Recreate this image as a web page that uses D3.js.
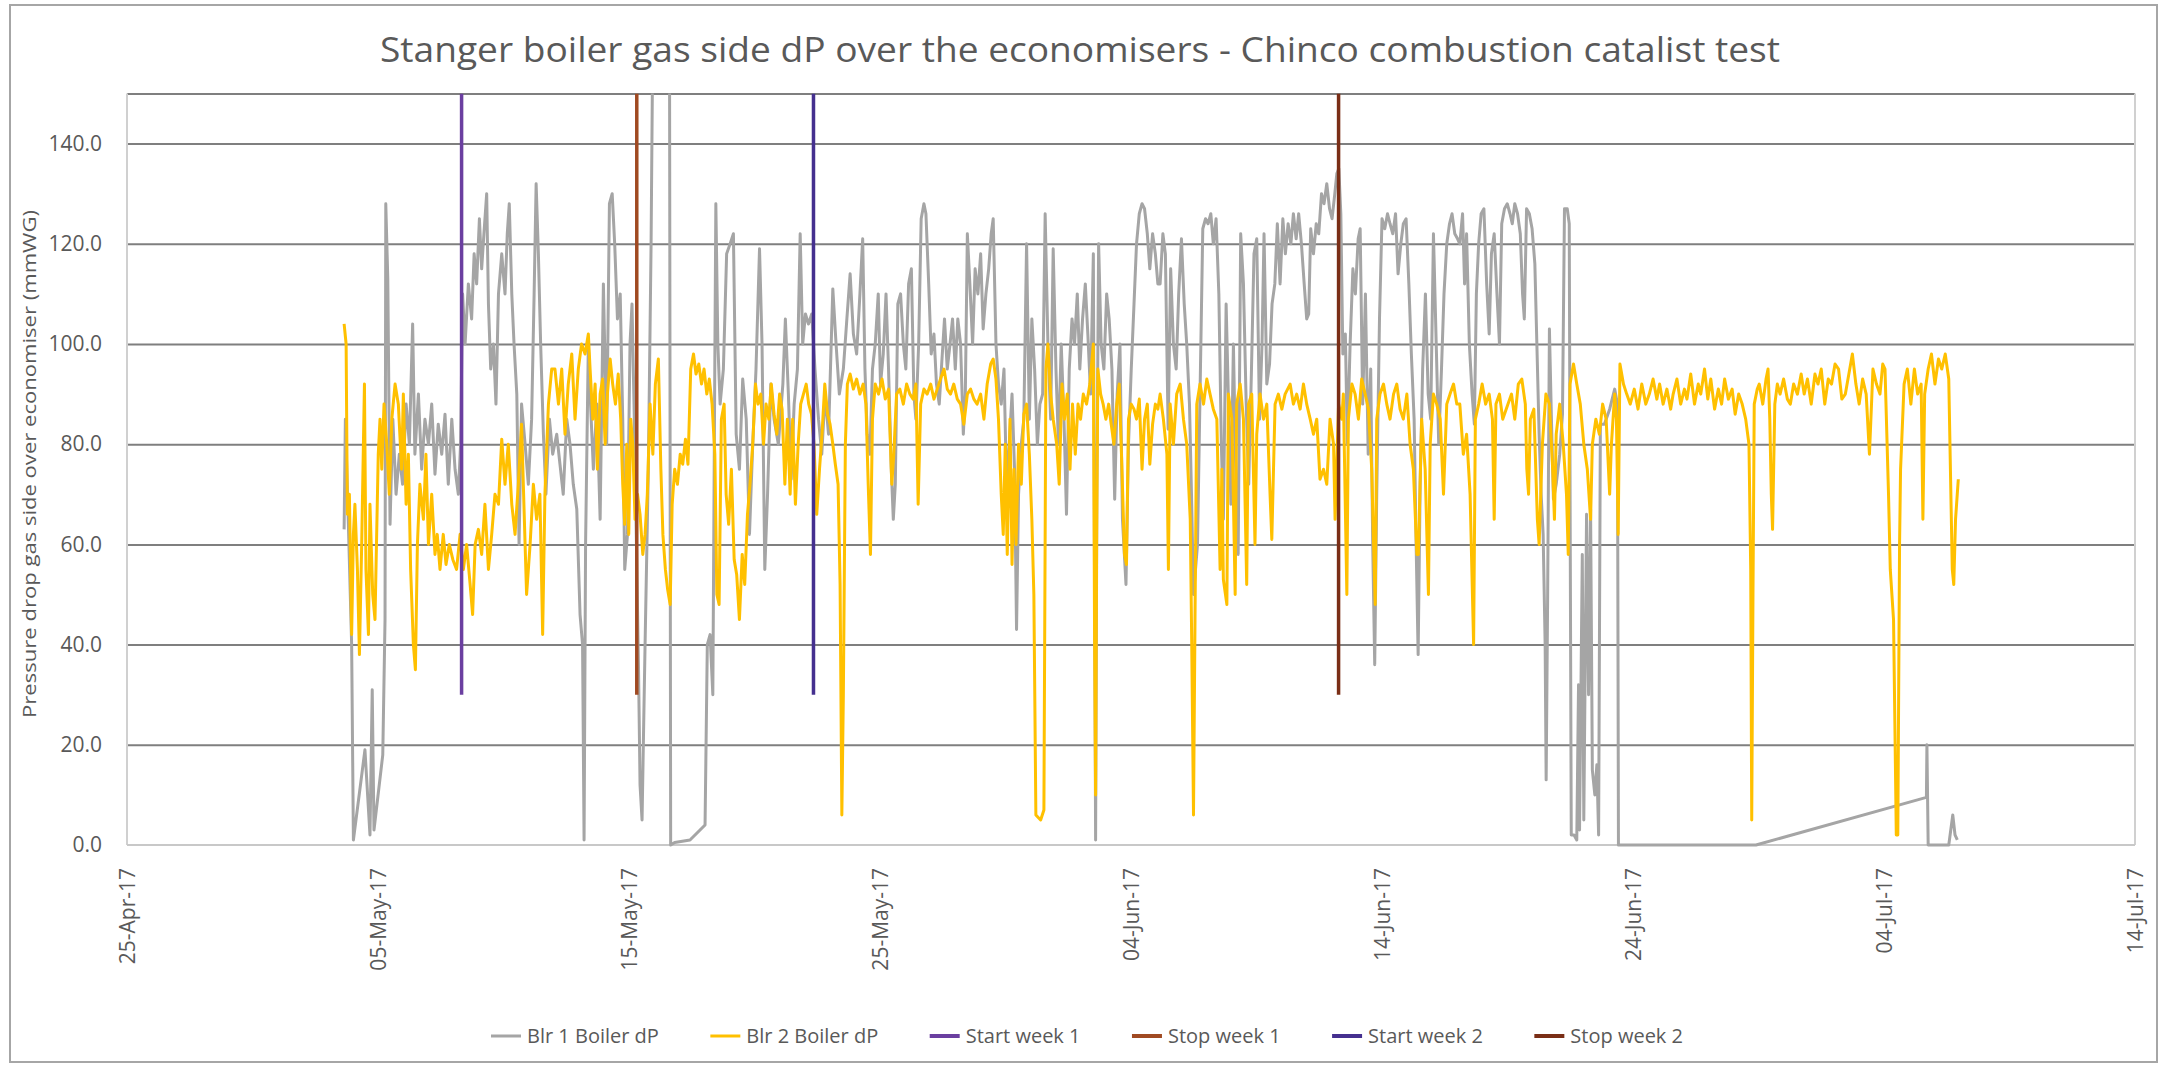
<!DOCTYPE html>
<html><head><meta charset="utf-8">
<script src="https://cdn.jsdelivr.net/npm/d3@7"></script>
<style>
body{margin:0;background:#fff;}
svg{display:block;}
text{font-family:"Open Sans","Liberation Sans",sans-serif;}
</style>
</head><body>
<svg id="chart" width="2164" height="1065"></svg>
<script>
// ---------- DATA ----------
const chartTitle = "Stanger boiler gas side dP over the economisers - Chinco combustion catalist test";
const yAxisTitle = "Pressure drop gas side over economiser (mmWG)";
const xTickLabels = ["25-Apr-17","05-May-17","15-May-17","25-May-17","04-Jun-17","14-Jun-17","24-Jun-17","04-Jul-17","14-Jul-17"];
const yTickValues = [0,20,40,60,80,100,120,140];
const yMax = 150;
const seriesNames = ["Blr 1 Boiler dP","Blr 2 Boiler dP"];
const markerNames = ["Start week 1","Stop week 1","Start week 2","Stop week 2"];
// marker lines: day offsets since 25-Apr-17, drawn from 30 to 150 mmWG
const markerDays = [13.33, 20.31, 27.35, 48.27];
const markerRange = [30, 150];

// [days since 25-Apr-17, mmWG]
const blr1 = [
[8.65,63],[8.70,85],[8.82,64],[8.95,40],[9.02,1],[9.48,19],[9.68,2],[9.77,31],[9.84,3],[10.19,18],[10.28,45],[10.31,128],[10.39,113],[10.48,64],[10.59,85],[10.72,70],[10.85,78],[10.98,72],[11.12,88],[11.25,80],[11.38,104],[11.47,78],[11.61,90],[11.74,75],[11.87,85],[12.01,80],[12.14,88],[12.27,74],[12.40,84],[12.54,78],[12.67,86],[12.80,72],[12.94,85],[13.07,75],[13.20,70],[13.29,80],[13.37,110],[13.47,100],[13.60,112],[13.73,105],[13.83,118],[13.93,112],[14.04,125],[14.13,115],[14.22,122],[14.33,130],[14.40,108],[14.49,95],[14.60,100],[14.70,88],[14.80,110],[14.93,118],[15.06,110],[15.15,122],[15.23,128],[15.33,110],[15.42,100],[15.53,90],[15.62,60],[15.72,88],[15.86,80],[15.99,72],[16.12,85],[16.22,110],[16.30,132],[16.39,118],[16.48,100],[16.59,82],[16.69,70],[16.83,85],[16.96,78],[17.12,82],[17.25,76],[17.38,70],[17.52,85],[17.65,80],[17.78,72],[17.92,67],[18.05,46],[18.15,40],[18.21,1],[18.27,60],[18.38,100],
[18.45,90],[18.58,75],[18.72,88],[18.85,65],[18.98,112],[19.11,80],[19.22,128],[19.33,130],[19.43,120],[19.54,105],[19.65,110],[19.75,85],[19.83,55],[19.94,62],[20.04,100],[20.12,108],[20.20,88],[20.28,65],[20.38,35],[20.44,12],[20.52,5],[20.64,40],[20.77,75],[20.88,120],[20.97,175],[21.61,175],[21.66,0],[21.82,0.5],[22.43,1],[22.83,3],[23.03,4],[23.12,40],[23.23,42],[23.34,30],[23.42,97],[23.46,128],[23.54,100],[23.63,88],[23.76,95],[23.89,118],[24.03,120],[24.16,122],[24.27,82],[24.40,75],[24.53,93],[24.67,85],[24.80,62],[24.93,80],[25.06,95],[25.20,119],[25.30,100],[25.41,55],[25.52,70],[25.65,92],[25.78,85],[25.95,80],[26.13,92],[26.23,105],[26.35,90],[26.46,73],[26.58,88],[26.71,95],[26.82,122],[26.92,100],[27.03,106],[27.15,104],[27.28,106],[27.41,95],[27.55,85],[27.68,78],[27.81,90],[27.95,82],[28.12,111],[28.25,100],[28.38,90],[28.54,95],[28.68,105],[28.81,114],[28.94,102],[29.07,98],
[29.20,110],[29.31,121],[29.40,95],[29.49,82],[29.60,78],[29.70,95],[29.81,100],[29.93,110],[30.02,92],[30.13,98],[30.24,110],[30.34,95],[30.45,75],[30.53,65],[30.61,72],[30.71,108],[30.82,110],[30.93,100],[31.03,95],[31.14,112],[31.25,115],[31.35,90],[31.43,85],[31.54,100],[31.64,125],[31.75,128],[31.83,126],[31.94,112],[32.04,98],[32.15,102],[32.25,92],[32.36,88],[32.47,97],[32.57,105],[32.68,95],[32.79,100],[32.89,105],[33.00,95],[33.10,105],[33.21,100],[33.32,82],[33.40,90],[33.48,122],[33.58,112],[33.69,100],[33.79,115],[33.90,110],[34.01,118],[34.11,103],[34.22,110],[34.33,115],[34.43,122],[34.51,125],[34.62,100],[34.72,92],[34.83,88],[34.94,95],[35.04,72],[35.15,80],[35.26,90],[35.36,75],[35.44,43],[35.52,70],[35.63,80],[35.73,85],[35.84,120],[35.95,85],[36.05,105],[36.16,95],[36.27,80],[36.37,88],[36.48,90],[36.58,126],[36.69,100],[36.80,85],[36.90,119],[37.01,95],[37.11,80],[37.22,100],[37.33,85],[37.43,66],[37.54,95],[37.65,105],[37.75,100],[37.86,110],[37.96,95],[38.07,105],[38.18,112],[38.28,102],[38.39,90],[38.50,118],[38.55,50],[38.59,1],[38.64,70],[38.71,120],[38.81,100],[38.92,95],[39.03,110],[39.13,105],[39.24,95],[39.35,69],[39.45,90],[39.56,100],[39.66,65],[39.80,52],[39.90,80],[40.01,95],[40.12,108],[40.22,120],[40.33,126],[40.44,128],[40.54,127],[40.65,122],[40.75,115],[40.86,122],[40.97,118],[41.07,112],
[41.16,112],[41.27,122],[41.37,118],[41.48,83],[41.58,115],[41.69,100],[41.80,95],[41.90,110],[42.01,121],[42.12,108],[42.22,100],[42.33,88],[42.41,70],[42.49,50],[42.57,55],[42.65,60],[42.75,90],[42.86,123],[42.97,125],[43.07,124],[43.18,126],[43.28,120],[43.39,125],[43.50,110],[43.60,80],[43.68,65],[43.79,108],[43.90,85],[43.98,68],[44.08,100],[44.19,70],[44.27,58],[44.37,122],[44.48,112],[44.59,88],[44.69,72],[44.80,95],[44.90,118],[45.01,121],[45.12,85],[45.22,100],[45.30,122],[45.41,92],[45.52,96],[45.62,108],[45.73,112],[45.83,124],[45.94,112],[46.05,125],[46.15,118],[46.26,124],[46.37,120],[46.47,126],[46.58,121],[46.68,126],[46.79,120],[46.90,112],[47.00,105],[47.08,106],[47.16,123],[47.27,118],[47.38,124],[47.48,122],[47.59,130],[47.69,128],[47.80,132],[47.91,127],[48.01,125],[48.12,130],[48.20,134],[48.28,135],[48.36,126],[48.44,98],[48.54,102],[48.62,80],[48.73,100],[48.84,115],[48.94,110],[49.05,121],[49.13,123],[49.23,88],[49.34,110],[49.45,78],[49.55,95],[49.63,60],[49.71,36],[49.79,70],[49.90,105],[50.00,125],[50.11,123],[50.22,126],[50.32,124],[50.43,122],[50.54,126],[50.64,114],[50.75,120],[50.85,124],[50.96,125],[51.07,112],[51.17,98],[51.28,85],[51.36,60],[51.44,38],[51.52,72],[51.62,95],[51.73,110],[51.84,90],[51.94,85],[52.05,122],[52.16,100],[52.26,80],[52.37,95],[52.47,110],[52.58,120],[52.69,124],[52.79,126],[52.90,122],[53.01,121],
[53.10,120],[53.21,126],[53.29,112],[53.37,122],[53.48,100],[53.59,90],[53.68,84],[53.76,110],[53.85,120],[53.95,126],[54.06,127],[54.17,112],[54.27,102],[54.36,118],[54.47,122],[54.58,110],[54.68,100],[54.77,124],[54.88,127],[54.99,128],[55.10,126],[55.19,124],[55.29,128],[55.40,126],[55.51,122],[55.60,110],[55.67,105],[55.76,127],[55.87,126],[55.98,123],[56.09,116],[56.17,100],[56.26,82],[56.34,70],[56.42,62],[56.50,40],[56.54,13],[56.60,50],[56.67,103],[56.75,85],[56.83,69],[56.94,72],[57.08,78],[57.19,86],[57.27,127],[57.38,127],[57.46,124],[57.50,60],[57.54,2],[57.65,2],[57.76,1],[57.83,32],[57.87,3],[57.98,58],[58.04,5],[58.15,66],[58.23,30],[58.31,67],[58.38,15],[58.48,10],[58.56,16],[58.63,2],[58.70,84],[58.86,84],[59.07,87],[59.27,91],[59.38,88],[59.42,0],[59.62,0],[62.00,0],[64.90,0],[71.69,9.5],[71.71,20],[71.76,0],[72.58,0],[72.74,6],[72.83,2],[72.92,1]
];

const blr2 = [
[8.65,104],[8.73,100],[8.78,66],[8.86,70],[8.95,42],[9.02,62],[9.08,68],[9.18,55],[9.26,38],[9.35,60],[9.46,92],[9.52,55],[9.62,42],[9.68,68],[9.79,50],[9.88,45],[10.01,78],[10.08,85],[10.15,75],[10.24,88],[10.35,80],[10.45,70],[10.55,85],[10.68,92],[10.81,88],[10.94,75],[11.01,90],[11.12,68],[11.21,78],[11.30,55],[11.41,40],[11.49,35],[11.57,60],[11.67,72],[11.81,65],[11.91,78],[12.01,60],[12.14,70],[12.27,58],[12.36,62],[12.47,55],[12.60,62],[12.71,56],[12.84,60],[12.98,57],[13.13,55],[13.27,62],[13.40,55],[13.53,60],[13.67,52],[13.77,46],[13.87,60],[14.00,63],[14.13,58],[14.26,68],[14.40,55],[14.53,62],[14.66,70],[14.80,68],[14.93,81],[15.06,72],[15.19,80],[15.33,68],[15.46,62],[15.59,72],[15.72,84],[15.86,60],[15.92,50],[16.06,60],[16.19,72],[16.32,65],[16.45,70],[16.56,42],[16.65,70],[16.79,88],[16.92,95],[17.05,95],[17.19,88],[17.32,95],[17.45,82],[17.58,92],[17.72,98],[17.85,85],[17.98,95],[18.11,100],[18.25,98],[18.38,102],
[18.45,95],[18.56,85],[18.65,92],[18.74,75],[18.85,90],[18.95,93],[19.05,80],[19.14,90],[19.25,97],[19.35,92],[19.46,88],[19.57,94],[19.67,85],[19.75,72],[19.83,64],[19.91,80],[19.99,62],[20.07,85],[20.15,80],[20.24,65],[20.34,70],[20.44,66],[20.55,58],[20.64,62],[20.73,70],[20.84,88],[20.95,78],[21.05,92],[21.17,97],[21.27,75],[21.35,62],[21.45,55],[21.54,51],[21.64,48],[21.72,68],[21.82,75],[21.93,72],[22.04,78],[22.14,76],[22.25,81],[22.35,76],[22.46,95],[22.57,98],[22.67,94],[22.78,96],[22.89,92],[22.99,95],[23.10,90],[23.20,93],[23.31,88],[23.42,78],[23.50,50],[23.59,48],[23.68,85],[23.79,88],[23.87,70],[23.97,64],[24.08,75],[24.19,57],[24.29,54],[24.40,45],[24.51,58],[24.61,52],[24.72,66],[24.82,72],[24.93,80],[25.04,92],[25.14,88],[25.25,90],[25.36,80],[25.46,88],[25.57,85],[25.67,92],[25.78,86],[25.89,82],[26.00,90],[26.10,87],[26.21,72],[26.31,85],[26.42,70],[26.52,85],[26.63,68],[26.74,80],[26.84,88],[26.95,90],[27.06,92],[27.16,88],[27.27,86],[27.37,80],[27.48,66],[27.59,75],[27.69,82],[27.80,92],[27.91,86],[28.01,84],[28.12,80],[28.22,76],[28.33,72],[28.41,52],[28.48,6],[28.54,30],[28.62,80],[28.70,92],[28.81,94],[28.94,91],[29.07,93],
[29.20,90],[29.33,92],[29.44,88],[29.53,72],[29.62,58],[29.70,85],[29.81,92],[29.94,90],[30.08,93],[30.21,89],[30.34,91],[30.47,72],[30.55,78],[30.66,90],[30.79,91],[30.93,88],[31.06,92],[31.19,90],[31.32,89],[31.43,92],[31.52,68],[31.62,88],[31.75,91],[31.88,90],[32.02,92],[32.15,89],[32.28,91],[32.41,93],[32.55,95],[32.68,91],[32.81,90],[32.94,92],[33.08,89],[33.21,88],[33.34,84],[33.48,90],[33.61,91],[33.74,89],[33.87,88],[34.01,90],[34.14,85],[34.27,92],[34.41,96],[34.51,97],[34.62,93],[34.72,85],[34.83,70],[34.91,62],[34.99,80],[35.07,58],[35.18,85],[35.26,56],[35.34,75],[35.42,60],[35.52,80],[35.63,72],[35.73,86],[35.84,88],[35.95,78],[36.05,65],[36.13,50],[36.21,6],[36.40,5],[36.53,7],[36.61,95],[36.69,100],[36.80,90],[36.90,85],[37.04,80],[37.14,72],[37.25,92],[37.35,85],[37.46,90],[37.57,75],[37.67,88],[37.78,78],[37.89,88],[37.99,85],[38.10,90],[38.23,88],[38.36,92],[38.50,100],[38.55,40],[38.59,10],[38.63,60],[38.68,95],[38.79,90],[38.89,88],[39.00,85],[39.11,88],[39.21,84],[39.32,80],[39.43,88],[39.53,92],[39.64,75],[39.74,58],[39.82,56],[39.90,85],[40.01,88],[40.12,87],[40.22,85],[40.33,89],[40.44,75],[40.54,85],[40.65,88],[40.75,76],[40.86,84],[40.97,88],[41.07,87],
[41.16,90],[41.29,85],[41.43,78],[41.49,55],[41.56,88],[41.69,80],[41.82,90],[41.96,92],[42.09,85],[42.22,80],[42.36,65],[42.42,40],[42.49,6],[42.55,45],[42.62,88],[42.75,92],[42.89,88],[43.02,93],[43.15,90],[43.28,87],[43.42,85],[43.55,55],[43.62,75],[43.68,53],[43.82,48],[43.88,90],[44.02,85],[44.15,50],[44.21,88],[44.35,92],[44.48,85],[44.61,52],[44.68,88],[44.81,90],[44.94,60],[45.01,82],[45.14,90],[45.28,85],[45.41,88],[45.54,70],[45.61,61],[45.74,88],[45.87,90],[46.01,87],[46.14,90],[46.34,92],[46.47,88],[46.60,90],[46.74,87],[46.87,92],[47.00,88],[47.14,85],[47.27,82],[47.40,85],[47.53,73],[47.67,75],[47.80,72],[47.93,85],[48.07,80],[48.13,65],[48.27,88],[48.40,85],[48.46,90],[48.53,70],[48.60,50],[48.66,85],[48.80,92],[48.93,90],[49.06,85],[49.19,93],[49.33,90],[49.46,87],[49.59,75],[49.66,61],[49.73,48],[49.79,85],[49.92,90],[50.06,92],[50.19,88],[50.32,85],[50.46,90],[50.59,92],[50.72,87],[50.85,85],[50.99,90],[51.12,80],[51.25,75],[51.39,58],[51.45,58],[51.58,85],[51.72,75],[51.85,50],[51.92,80],[52.05,90],[52.18,88],[52.32,85],[52.45,70],[52.58,88],[52.71,90],[52.85,92],[52.98,88],
[53.10,88],[53.24,78],[53.37,82],[53.51,70],[53.58,55],[53.65,40],[53.72,85],[53.85,88],[53.99,92],[54.13,88],[54.27,90],[54.40,85],[54.47,65],[54.54,88],[54.68,90],[54.81,85],[55.02,88],[55.16,90],[55.29,85],[55.43,92],[55.57,93],[55.71,88],[55.77,75],[55.84,70],[55.91,85],[56.05,87],[56.19,65],[56.26,60],[56.39,80],[56.53,90],[56.67,88],[56.80,75],[56.87,65],[56.94,82],[57.08,88],[57.22,80],[57.35,70],[57.42,58],[57.49,92],[57.63,96],[57.76,92],[57.90,88],[58.04,80],[58.18,75],[58.31,65],[58.38,80],[58.52,85],[58.66,82],[58.79,88],[58.93,85],[59.07,70],[59.14,80],[59.27,90],[59.34,85],[59.41,62],[59.48,96],[59.62,92],[59.75,90],[59.89,88],[60.05,91],[60.20,87],[60.35,92],[60.51,88],[60.65,90],[60.80,93],[60.95,89],[61.06,92],[61.20,88],[61.35,91],[61.50,87],[61.60,90],[61.75,93],[61.90,88],[62.05,91],[62.15,89],[62.30,94],[62.45,88],[62.60,92],[62.70,90],[62.85,95],[62.98,89],[63.10,93],[63.25,87],[63.40,91],[63.53,88],[63.65,93],[63.80,89],[63.95,91],[64.07,86],[64.21,90],[64.35,88],[64.49,85],[64.62,80],[64.69,55],[64.73,5],[64.78,50],[64.83,88],[64.95,91],[65.03,92],[65.17,88],[65.30,93],[65.38,95],[65.45,85],[65.51,70],[65.56,63],[65.65,88],[65.75,92],[65.86,90],[66.00,93],[66.15,89],[66.27,88],[66.40,92],[66.55,90],[66.70,94],[66.82,90],[66.95,93],[67.10,88],[67.25,94],[67.37,92],[67.50,95],[67.64,88],[67.78,93],[67.91,92],[68.05,96],[68.19,95],[68.32,89],[68.46,90],[68.60,94],[68.74,98],[68.88,92],[69.01,88],[69.15,93],[69.29,90],[69.42,78],[69.56,95],[69.70,92],[69.84,90],[69.95,96],[70.04,95],[70.18,70],[70.25,55],[70.38,45],[70.49,2],[70.55,2],[70.62,60],[70.66,75],[70.80,92],[70.93,95],[71.07,88],[71.21,95],[71.34,90],[71.48,92],[71.55,65],[71.62,90],[71.76,95],[71.89,98],[72.03,92],[72.17,97],[72.30,95],[72.44,98],[72.58,93],[72.72,55],[72.78,52],[72.85,65],[72.96,73]
];

// ---------- STYLE ----------
const seriesColors = ["#A5A5A5","#FFC000"];
const markerColors = ["#6B3FA0","#A04A22","#45308F","#7A2E16"];
const textColor = "#595959";

// ---------- LAYOUT ----------
const W = 2164, H = 1065;
const plot = {left:127, right:2135, top:93.5, bottom:845};
const svg = d3.select("#chart");
svg.append("rect").attr("width",W).attr("height",H).attr("fill","#fff");
svg.append("rect").attr("x",10).attr("y",5).attr("width",2147).attr("height",1057)
  .attr("fill","none").attr("stroke","#a6a6a6").attr("stroke-width",2);

const parseD = d3.utcParse("%d-%b-%y");
const fmtD = d3.utcFormat("%d-%b-%y");
const tickDates = xTickLabels.map(parseD);
const t0 = tickDates[0];
const dayToDate = d => new Date(t0.getTime() + d*864e5);

const x = d3.scaleUtc().domain([tickDates[0], tickDates[tickDates.length-1]]).range([plot.left, plot.right]);
const y = d3.scaleLinear().domain([0, yMax]).range([plot.bottom, plot.top]);

// gridlines
const grid = svg.append("g").attr("transform",`translate(${plot.left},0)`)
  .call(d3.axisLeft(y).tickValues(yTickValues.filter(v=>v>0).concat([yMax])).tickSize(-(plot.right-plot.left)).tickFormat(""));
grid.select(".domain").remove();
grid.selectAll("line").attr("stroke","#7f7f7f").attr("stroke-width",2);

// plot borders (light)
svg.append("line").attr("x1",plot.left).attr("x2",plot.left).attr("y1",plot.top).attr("y2",plot.bottom).attr("stroke","#d0d0d0").attr("stroke-width",2);
svg.append("line").attr("x1",plot.right).attr("x2",plot.right).attr("y1",plot.top).attr("y2",plot.bottom).attr("stroke","#d0d0d0").attr("stroke-width",2);
svg.append("line").attr("x1",plot.left).attr("x2",plot.right).attr("y1",y(0)).attr("y2",y(0)).attr("stroke","#c8c8c8").attr("stroke-width",2);

// y axis labels
const yAx = svg.append("g").attr("transform",`translate(${plot.left},0)`)
  .call(d3.axisLeft(y).tickValues(yTickValues).tickSize(0).tickPadding(25).tickFormat(d3.format(".1f")));
yAx.select(".domain").remove();
yAx.selectAll("text").attr("fill",textColor).style("font-size","21px").style("font-family","'Open Sans',sans-serif");

// x axis labels
const xAx = svg.append("g").attr("transform",`translate(0,${plot.bottom})`)
  .call(d3.axisBottom(x).tickValues(tickDates).tickSize(0).tickFormat(fmtD));
xAx.select(".domain").remove();
xAx.selectAll("text").attr("fill",textColor).style("font-size","21px").style("font-family","'Open Sans',sans-serif")
  .attr("transform","rotate(-90)").attr("x",-23).attr("y",0).attr("dy","0.35em").attr("text-anchor","end");

// clip
svg.append("clipPath").attr("id","clip").append("rect")
  .attr("x",plot.left).attr("y",plot.top).attr("width",plot.right-plot.left).attr("height",plot.bottom-plot.top+2);

const line = d3.line().x(d=>x(dayToDate(d[0]))).y(d=>y(d[1]));
const gData = svg.append("g").attr("clip-path","url(#clip)");
[blr1, blr2].forEach((s,i)=>{
  gData.append("path").datum(s).attr("d",line).attr("fill","none")
    .attr("stroke",seriesColors[i]).attr("stroke-width",3).attr("stroke-linejoin","round");
});
markerDays.forEach((d,i)=>{
  gData.append("path").datum(markerRange.map(v=>[d,v])).attr("d",line)
    .attr("fill","none").attr("stroke",markerColors[i]).attr("stroke-width",3.5);
});

// title
svg.append("text").attr("x",380).attr("y",62).attr("textLength",1400).attr("lengthAdjust","spacingAndGlyphs")
  .attr("fill",textColor).style("font-size","34px").text(chartTitle);

// y title
svg.append("text").attr("transform","translate(29,464) rotate(-90)").attr("text-anchor","middle")
  .attr("dominant-baseline","central").attr("textLength",508).attr("lengthAdjust","spacingAndGlyphs")
  .attr("fill",textColor).style("font-size","19px").text(yAxisTitle);

// legend
const legendItems = seriesNames.map((n,i)=>({name:n,color:seriesColors[i],w:3}))
  .concat(markerNames.map((n,i)=>({name:n,color:markerColors[i],w:4})));
const lg = svg.append("g");
const items = legendItems.map(it=>{
  const g = lg.append("g");
  g.append("line").attr("x1",0).attr("x2",30).attr("y1",0).attr("y2",0).attr("stroke",it.color).attr("stroke-width",it.w);
  const t = g.append("text").attr("x",36).attr("y",0).attr("dy","0.35em").attr("fill",textColor)
    .style("font-size","20px").text(it.name);
  return {g, width: 36 + t.node().getComputedTextLength()};
});
const legStart = 491, legEnd = 1683;
const totalW = d3.sum(items, d=>d.width);
const gap = (legEnd - legStart - totalW)/(items.length-1);
let cx = legStart;
items.forEach(it=>{ it.g.attr("transform",`translate(${cx},1036)`); cx += it.width + gap; });
</script>
</body></html>
